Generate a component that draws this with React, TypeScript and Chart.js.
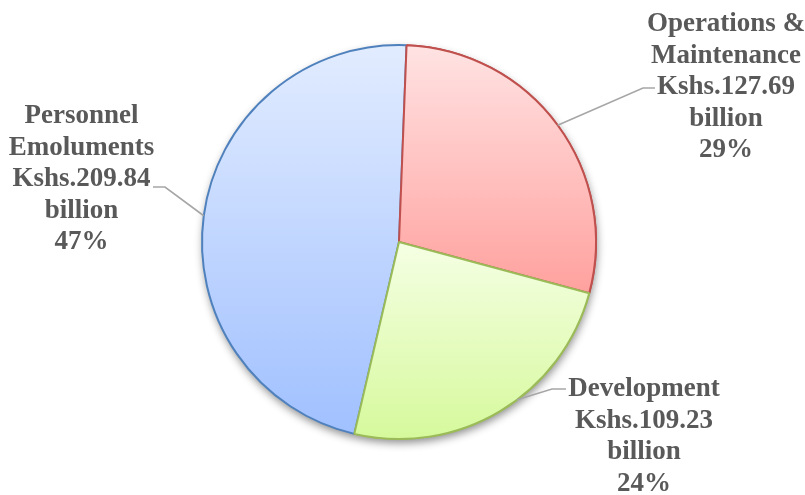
import React, { useEffect, useRef } from "react";
import { Chart, registerables } from "chart.js";

Chart.register(...registerables);

// ---- data ----
const categories: string[][] = [["Operations &", "Maintenance"], ["Development"], ["Personnel", "Emoluments"]];
const values: number[] = [127.69, 109.23, 209.84];
const currencyPrefix = "Kshs.";
const unitLabel = "billion";

// ---- style ----
const fillTop = ["#FFE3E3", "#F5FFE4", "#E2ECFF"];
const fillBottom = ["#FFA19E", "#D6F99C", "#A0C0FF"];
const borderColors = ["#C0504D", "#9BBB59", "#4F81BD"];
const rotationDeg = 2.2;
const pieRadius = 197;
const textColor = "#595959";
const leaderColor = "#A6A6A6";
const labelFont = "bold 27px 'Liberation Serif', 'DejaVu Serif', serif";
const lineStep = 31.6;

// label layout: text centre x, first baseline, leader end / elbow, fraction of slice for leader start
const labelLayout = [
  { x: 726, y: 31, endX: 655, elbowX: 643, leaderY: 88, frac: 0.5 },
  { x: 644, y: 396, endX: 566, elbowX: 552, leaderY: 389, frac: 0.433 },
  { x: 81.5, y: 123, endX: 153, elbowX: 165, leaderY: 187, frac: 0.5 },
];

function sliceYRange(cx: number, cy: number, r: number, a0: number, a1: number) {
  const ys = [cy, cy + r * Math.sin(a0), cy + r * Math.sin(a1)];
  const norm = (a: number) => ((a % (2 * Math.PI)) + 2 * Math.PI) % (2 * Math.PI);
  const inRange = (t: number) => {
    const s = norm(a0);
    const span = a1 - a0;
    const d = norm(t - s);
    return d <= span;
  };
  if (inRange(-Math.PI / 2)) ys.push(cy - r);
  if (inRange(Math.PI / 2)) ys.push(cy + r);
  return [Math.min(...ys), Math.max(...ys)];
}

export default function App() {
  const ref = useRef<HTMLCanvasElement | null>(null);

  useEffect(() => {
    document.body.style.margin = "0";
    const canvas = ref.current!;
    const total = values.reduce((a, b) => a + b, 0);

    const shadowPlugin = {
      id: "pieShadow",
      beforeDatasetsDraw(chart: any) {
        const arc = chart.getDatasetMeta(0).data[0];
        if (!arc) return;
        const ctx = chart.ctx;
        ctx.save();
        ctx.beginPath();
        ctx.arc(arc.x, arc.y, arc.outerRadius, 0, Math.PI * 2);
        ctx.fillStyle = "#ffffff";
        ctx.shadowColor = "rgba(0,0,0,0.45)";
        ctx.shadowBlur = 9;
        ctx.shadowOffsetX = 1;
        ctx.shadowOffsetY = 4;
        ctx.fill();
        ctx.restore();
      },
    };

    const reorderPlugin = {
      id: "reorder",
      afterDatasetsDraw(chart: any) {
        const arcs = chart.getDatasetMeta(0).data;
        // draw order seen in reference: blue, red, green
        arcs[0].draw(chart.ctx, chart.chartArea);
        arcs[1].draw(chart.ctx, chart.chartArea);
      },
    };

    const labelPlugin = {
      id: "labels",
      afterDraw(chart: any) {
        const ctx = chart.ctx;
        const arcs = chart.getDatasetMeta(0).data;
        ctx.save();
        arcs.forEach((arc: any, i: number) => {
          const L = labelLayout[i];
          const a = arc.startAngle + L.frac * (arc.endAngle - arc.startAngle);
          const sx = arc.x + arc.outerRadius * Math.cos(a);
          const sy = arc.y + arc.outerRadius * Math.sin(a);
          ctx.strokeStyle = leaderColor;
          ctx.lineWidth = 1.6;
          ctx.beginPath();
          ctx.moveTo(sx, sy);
          ctx.lineTo(L.elbowX, L.leaderY);
          ctx.lineTo(L.endX, L.leaderY);
          ctx.stroke();

          const pct = Math.round((values[i] / total) * 100);
          const lines = [...categories[i], currencyPrefix + values[i].toFixed(2), unitLabel, pct + "%"];
          ctx.font = labelFont;
          ctx.fillStyle = textColor;
          ctx.textAlign = "center";
          ctx.textBaseline = "alphabetic";
          lines.forEach((t, k) => ctx.fillText(t, L.x, L.y + k * lineStep));
        });
        ctx.restore();
      },
    };

    const chart = new Chart(canvas, {
      type: "pie",
      data: {
        labels: categories.map((c) => c.join(" ")),
        datasets: [
          {
            data: values,
            borderColor: borderColors,
            borderWidth: 2,
            backgroundColor: (c: any) => {
              const i = c.dataIndex;
              const chart = c.chart;
              const area = chart.chartArea;
              if (i === undefined || !area) return fillTop[i ?? 0];
              const cx = (area.left + area.right) / 2;
              const cy = (area.top + area.bottom) / 2;
              let start = -Math.PI / 2 + (rotationDeg * Math.PI) / 180;
              for (let k = 0; k < i; k++) start += (values[k] / total) * Math.PI * 2;
              const end = start + (values[i] / total) * Math.PI * 2;
              const [y0, y1] = sliceYRange(cx, cy, pieRadius, start, end);
              const g = chart.ctx.createLinearGradient(0, y0, 0, y1);
              g.addColorStop(0, fillTop[i]);
              g.addColorStop(1, fillBottom[i]);
              return g;
            },
          },
        ],
      },
      options: {
        responsive: false,
        animation: false,
        rotation: rotationDeg,
        radius: pieRadius,
        layout: { padding: { left: 0, right: 7, top: 0, bottom: 11 } },
        plugins: {
          legend: { display: false },
          tooltip: { enabled: false },
        },
      } as any,
      plugins: [shadowPlugin, reorderPlugin, labelPlugin],
    });
    return () => chart.destroy();
  }, []);

  return (
    <div style={{ position: "absolute", left: 0, top: 0, width: 805, height: 495, background: "#fff" }}>
      <canvas ref={ref} width={805} height={495} style={{ width: 805, height: 495 }} />
    </div>
  );
}
